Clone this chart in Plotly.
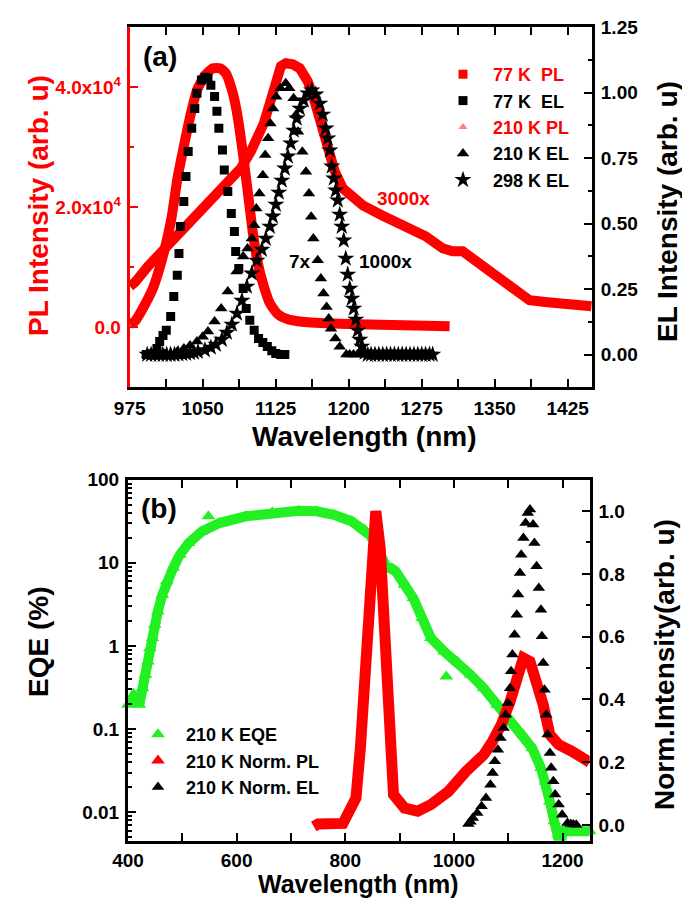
import plotly.graph_objects as go

# ---------------- Panel (a) data ----------------
pl77_x = [975.3, 980.4, 988.6, 998.9, 1004.1, 1011.2, 1017.9, 1024.1, 1031.3, 1037.9, 1044.1, 1052.3,
          1060.5, 1067.7, 1073.8, 1081.0, 1086.2, 1091.3, 1096.5, 1101.6, 1106.7, 1111.9, 1119.0,
          1127.3, 1137.5, 1147.8, 1158.0, 1209.3, 1303.7]
pl77_y = [500, 1000, 3170, 6500, 9000, 13170, 18170, 24830, 30670, 35670, 39500, 42000,
          43170, 43170, 42330, 39000, 34830, 29000, 22330, 15670, 10670, 7330, 4000,
          2170, 1330, 1000, 830, 500, 170]

pl210_x = [975.3, 980.4, 993.8, 1011.2, 1024.5, 1042.0, 1055.3, 1065.6, 1077.9, 1089.2, 1099.5,
           1106.7, 1112.8, 1119.0, 1125.1, 1130.3, 1135.4, 1142.6, 1149.8, 1158.0, 1164.1, 1171.3,
           1178.5, 1185.7, 1193.9, 1204.2, 1214.5, 1234.0, 1255.5, 1279.1, 1296.5, 1306.8, 1317.1,
           1332.4, 1346.8, 1363.2, 1373.5, 1379.7, 1385.8, 1404.3, 1424.8, 1449.4]
pl210_y = [6830, 7500, 10170, 13170, 15500, 18670, 20670, 22330, 24500, 26500, 29330,
           31500, 34000, 37330, 41170, 43500, 44000, 43830, 43170, 41000, 38170, 34330,
           29830, 26000, 23170, 21500, 20330, 18670, 16830, 15170, 13170, 12670, 12670,
           10830, 8830, 7000, 5830, 4830, 4500, 4170, 3830, 3500]

el77_x = [992.0, 994.8, 996.9, 998.9, 1001.0, 1003.0, 1005.8, 1009.2, 1012.6, 1017.1, 1020.3, 1023.9,
          1025.6, 1027.0, 1030.6, 1032.8, 1035.1, 1038.7, 1041.9, 1044.1, 1048.7, 1052.3, 1055.4,
          1058.4, 1062.2, 1064.6, 1066.6, 1070.3, 1072.2, 1075.8, 1079.4, 1082.6, 1083.9, 1087.1,
          1091.6, 1094.7, 1098.4, 1102.9, 1107.4, 1111.8, 1116.4, 1121.0, 1125.1, 1130.3, 1134.4]
el77_y = [0.0, 0.0, 0.0, 0.004, 0.004, 0.023, 0.050, 0.073, 0.093, 0.145, 0.222, 0.303,
          0.386, 0.489, 0.585, 0.680, 0.776, 0.864, 0.940, 0.998, 1.049, 1.059, 1.055,
          1.029, 0.986, 0.929, 0.864, 0.781, 0.705, 0.623, 0.539, 0.470, 0.394, 0.329,
          0.252, 0.176, 0.131, 0.093, 0.061, 0.046, 0.031, 0.015, 0.004, 0.0, 0.0]

el210_x = [993.0, 998.9, 1005.0, 1011.0, 1017.1, 1024.0, 1030.7, 1037.0, 1044.1, 1050.0, 1055.4, 1062.2,
           1069.0, 1075.8, 1084.8, 1091.6, 1096.1, 1100.5, 1102.9, 1105.1, 1108.2, 1111.8, 1114.2,
           1117.2, 1119.5, 1122.3, 1125.5, 1129.9, 1135.3, 1138.9, 1143.4, 1145.7, 1147.9, 1152.4,
           1156.1, 1159.2, 1161.5, 1163.7, 1168.2, 1171.4, 1174.1, 1177.3, 1179.5, 1181.8, 1186.3,
           1190.8, 1197.6, 1201.0, 1205.0, 1209.0, 1213.0, 1217.0, 1221.0, 1225.0, 1229.0, 1233.0,
           1237.0, 1241.0, 1245.0, 1249.0, 1253.0, 1257.0, 1261.0, 1265.0, 1269.0, 1273.0, 1277.0,
           1281.0, 1284.0]
el210_y = [0.0, 0.0, 0.0, 0.002, 0.004, 0.012, 0.023, 0.035, 0.050, 0.068, 0.088, 0.126,
           0.176, 0.241, 0.317, 0.375, 0.405, 0.443, 0.494, 0.558, 0.615, 0.685, 0.762,
           0.826, 0.883, 0.940, 0.985, 1.017, 1.036, 1.017, 0.979, 0.915, 0.851, 0.775,
           0.698, 0.615, 0.526, 0.443, 0.360, 0.291, 0.233, 0.182, 0.138, 0.099, 0.061,
           0.030, 0.0, 0.0, 0.0, 0.0, 0.0, 0.0, 0.0, 0.0, 0.0, 0.0,
           0.0, 0.0, 0.0, 0.0, 0.0, 0.0, 0.0, 0.0, 0.0, 0.0, 0.0,
           0.0, 0.0]

el298_x = [993.0, 997.0, 1001.0, 1005.0, 1009.0, 1013.0, 1017.0, 1021.0, 1025.0, 1029.0, 1033.0,
           1037.0, 1041.0, 1045.1, 1052.3, 1058.4, 1063.6, 1069.7, 1074.9, 1080.0, 1085.2, 1090.3,
           1095.4, 1100.5, 1105.6, 1110.8, 1114.9, 1119.0, 1122.1, 1125.2, 1128.2, 1131.3, 1134.4,
           1137.5, 1140.5, 1143.6, 1146.7, 1149.8, 1153.9, 1158.0, 1162.1, 1166.2, 1170.3, 1173.4,
           1176.5, 1178.5, 1180.6, 1182.6, 1184.7, 1186.7, 1188.8, 1190.8, 1192.9, 1194.9, 1197.0,
           1199.0, 1201.1, 1203.2, 1205.2, 1207.3, 1209.3, 1211.4, 1213.4, 1216.5, 1219.6, 1223.0,
           1227.0, 1231.0, 1235.0, 1239.0, 1243.0, 1247.0, 1251.0, 1255.0, 1259.0, 1263.0, 1267.0,
           1271.0, 1275.0, 1279.0, 1283.0, 1286.3]
el298_y = [0.0, 0.0, 0.0, 0.0, 0.0, 0.0, 0.0, 0.0, 0.002, 0.003, 0.004,
           0.006, 0.008, 0.011, 0.017, 0.027, 0.038, 0.057, 0.084, 0.115, 0.157, 0.206,
           0.260, 0.310, 0.359, 0.401, 0.443, 0.489, 0.528, 0.573, 0.619, 0.665, 0.711,
           0.757, 0.807, 0.856, 0.902, 0.940, 0.971, 0.998, 1.009, 0.994, 0.959, 0.917,
           0.864, 0.826, 0.780, 0.719, 0.673, 0.627, 0.589, 0.535, 0.489, 0.436, 0.367,
           0.306, 0.252, 0.214, 0.176, 0.134, 0.092, 0.057, 0.031, 0.008, 0.0, 0.0,
           0.0, 0.0, 0.0, 0.0, 0.0, 0.0, 0.0, 0.0, 0.0, 0.0, 0.0,
           0.0, 0.0, 0.0, 0.0, 0.0]

# ---------------- Panel (b) data ----------------
eqe_x = [400, 410.1, 420.8, 426.5, 432.0, 436.8, 440.3, 445.1, 449.2, 454.9, 463.0, 471.1, 483.2,
         495.4, 511.6, 535.9, 568.4, 617.0, 665.6, 714.3, 746.8, 779.2, 811.6, 835.9, 852.1,
         866.0, 876.6, 885.0, 892.8, 909.0, 925.2, 941.4, 957.6, 981.9, 1006.2, 1030.7, 1055.0,
         1079.3, 1103.6, 1127.9, 1144.1, 1160.3, 1168.4, 1176.7, 1184.8, 1192.9, 1196.0, 1200.0,
         1215.0, 1230.0, 1250.0]
eqe_y = [0.196, 0.247, 0.196, 0.311, 0.45, 0.65, 0.94, 1.25, 1.8, 2.6, 4.1, 6.0, 8.7,
         12.5, 17.3, 23.9, 30.1, 36.3, 40.6, 42.4, 41.7, 37.9, 31.6, 25.0, 19.9,
         12.0, 8.7, 8.6, 7.9, 5.45, 3.77, 2.17, 1.25, 0.86, 0.65, 0.45, 0.31,
         0.196, 0.124, 0.085, 0.059, 0.034, 0.0235, 0.0135, 0.0078, 0.0054, 0.0038, 0.0059,
         0.0059, 0.0059, 0.0059]
eqe_out_x = [548.0, 986.0]
eqe_out_y = [36.3, 0.43]

npl_x = [742.0, 750.0, 795.8, 803.2, 819.7, 827.8, 835.9, 844.0, 850.7, 856.2, 864.3, 870.0, 875.0,
         880.5, 888.8, 909.0, 933.3, 957.6, 990.0, 1022.4, 1055.0, 1071.2, 1087.4, 1103.6, 1115.8,
         1127.9, 1140.1, 1152.2, 1164.4, 1176.7, 1192.9, 1217.2, 1241.3, 1250.0]
npl_y = [-0.005, 0.003, 0.005, 0.033, 0.086, 0.245, 0.458, 0.723, 0.936, 1.0, 0.882, 0.67, 0.458,
         0.245, 0.097, 0.054, 0.044, 0.065, 0.107, 0.171, 0.224, 0.267, 0.32, 0.394, 0.479,
         0.532, 0.521, 0.458, 0.383, 0.288, 0.256, 0.235, 0.208, 0.2]

nel_x = [1026.7, 1030.5, 1034.8, 1042.9, 1051.0, 1059.1, 1067.2, 1071.2, 1075.3, 1081.0, 1085.8,
         1091.5, 1095.5, 1099.6, 1103.6, 1105.3, 1107.7, 1111.7, 1115.8, 1118.2, 1121.5, 1123.9,
         1127.9, 1132.0, 1136.0, 1140.1, 1145.8, 1148.2, 1152.2, 1156.3, 1160.3, 1162.0, 1164.4,
         1166.7, 1170.1, 1172.5, 1176.7, 1179.1, 1183.1, 1186.3, 1192.9, 1199.3, 1209.1, 1215.0,
         1220.0, 1225.3]
nel_y = [0.003, 0.01, 0.022, 0.038, 0.06, 0.086, 0.128, 0.166, 0.203, 0.24, 0.277,
         0.309, 0.351, 0.389, 0.436, 0.49, 0.543, 0.606, 0.67, 0.734, 0.803, 0.861,
         0.914, 0.962, 0.994, 1.005, 0.957, 0.898, 0.824, 0.755, 0.686, 0.601, 0.516,
         0.431, 0.351, 0.288, 0.229, 0.182, 0.139, 0.097, 0.065, 0.033, 0.006, 0.003,
         0.002, 0.001]

# tick labels
left_a_tickvals = [0, 20000, 40000]
left_a_ticktext = ["0.0", "2.0x10<sup>4</sup>", "4.0x10<sup>4</sup>"]
left_b_tickvals = [0.01, 0.1, 1, 10, 100]
left_b_ticktext = ["0.01", "0.1", "1", "10", "100"]

RED = "#ff0000"
GREEN = "#22f022"
FONT = "Liberation Sans, Arial, sans-serif"
W, H = 690, 898


def px(x):
    return x / W


def py(y):
    return 1 - y / H


fig = go.Figure()

# ---- panel (a) traces ----
fig.add_trace(go.Scatter(x=pl210_x, y=pl210_y, mode="lines", xaxis="x", yaxis="y",
                         line=dict(color=RED, width=10), showlegend=False))
fig.add_trace(go.Scatter(x=pl77_x, y=pl77_y, mode="lines", xaxis="x", yaxis="y",
                         line=dict(color=RED, width=10, shape="spline", smoothing=0.6), showlegend=False))
fig.add_trace(go.Scatter(x=[None], y=[None], mode="markers", xaxis="x", yaxis="y",
                         marker=dict(symbol="square", size=9, color=RED),
                         name="<span style='color:#ff0000'>77 K\u00a0 PL</span>", legend="legend", legendrank=1))
fig.add_trace(go.Scatter(x=[None], y=[None], mode="markers", xaxis="x", yaxis="y",
                         marker=dict(symbol="triangle-up", size=8, color="#ff8080"),
                         name="<span style='color:#ff0000'>210 K PL</span>", legend="legend", legendrank=3))
fig.add_trace(go.Scatter(x=el77_x, y=el77_y, mode="markers", xaxis="x", yaxis="y2",
                         marker=dict(symbol="square", size=9, color="black"),
                         name="77 K\u00a0 EL", legend="legend", legendrank=2))
fig.add_trace(go.Scatter(x=el210_x, y=el210_y, mode="markers", xaxis="x", yaxis="y2",
                         marker=dict(symbol="triangle-up", size=11, color="black"),
                         name="210 K EL", legend="legend", legendrank=4))
fig.add_trace(go.Scatter(x=el298_x, y=el298_y, mode="markers", xaxis="x", yaxis="y2",
                         marker=dict(symbol="star", size=13, color="black"),
                         name="298 K EL", legend="legend", legendrank=5))

# ---- panel (b) traces ----
fig.add_trace(go.Scatter(x=eqe_x, y=eqe_y, mode="lines+markers", xaxis="x2", yaxis="y3",
                         line=dict(color=GREEN, width=10),
                         marker=dict(symbol="triangle-up", size=12, color=GREEN),
                         cliponaxis=False, showlegend=False))
fig.add_trace(go.Scatter(x=eqe_out_x, y=eqe_out_y, mode="markers", xaxis="x2", yaxis="y3",
                         marker=dict(symbol="triangle-up", size=12, color=GREEN), showlegend=False))
fig.add_trace(go.Scatter(x=[None], y=[None], mode="markers", xaxis="x2", yaxis="y3",
                         marker=dict(symbol="triangle-up", size=12, color=GREEN),
                         name="210 K EQE", legend="legend2", legendrank=1))
fig.add_trace(go.Scatter(x=npl_x, y=npl_y, mode="lines", xaxis="x2", yaxis="y4",
                         line=dict(color=RED, width=11), showlegend=False))
fig.add_trace(go.Scatter(x=[None], y=[None], mode="markers", xaxis="x2", yaxis="y4",
                         marker=dict(symbol="triangle-up", size=12, color=RED),
                         name="210 K Norm. PL", legend="legend2", legendrank=2))
fig.add_trace(go.Scatter(x=nel_x, y=nel_y, mode="markers", xaxis="x2", yaxis="y4",
                         marker=dict(symbol="triangle-up", size=11, color="black"),
                         name="210 K Norm. EL", legend="legend2", legendrank=3))

tickfont = dict(family=FONT, size=19, color="black", weight="bold")
common_ax = dict(showgrid=False, zeroline=False, linewidth=3, ticks="inside", ticklen=8,
                 tickwidth=2, showline=True, automargin=False)

fig.update_layout(
    template="none",
    width=W, height=H, autosize=False,
    margin=dict(l=0, r=0, t=0, b=0, pad=0),
    paper_bgcolor="white", plot_bgcolor="white",
    font=dict(family=FONT, color="black"),
    xaxis=dict(domain=[121.7 / W, 584 / W], anchor="y", range=[975, 1450],
               tickmode="linear", tick0=975, dtick=75, linecolor="black", tickcolor="black",
               mirror="allticks", tickfont=tickfont, ticklabelstandoff=2,
               minor=dict(ticks="inside", ticklen=4, tickwidth=2, tickmode="linear", tick0=975, dtick=37.5,
                          tickcolor="black"),
               **common_ax),
    yaxis=dict(domain=[1 - 379.3 / H, 1 - 19.3 / H], anchor="x", range=[-10000, 50000],
               tickmode="array", tickvals=left_a_tickvals, ticktext=left_a_ticktext, ticklabelstandoff=2,
               linecolor=RED, tickcolor=RED, tickfont=dict(family=FONT, size=19, color=RED, weight="bold"),
               minor=dict(ticks="inside", ticklen=4, tickwidth=2, tickmode="linear", tick0=0, dtick=10000,
                          tickcolor=RED),
               **common_ax),
    yaxis2=dict(overlaying="y", side="right", anchor="x", range=[-0.125, 1.25],
                tickmode="linear", tick0=0, dtick=0.25, tickformat=".2f", ticklabelstandoff=2,
                linecolor="black", tickcolor="black", tickfont=tickfont,
                minor=dict(ticks="inside", ticklen=4, tickwidth=2, tickmode="linear", tick0=0, dtick=0.125,
                           tickcolor="black"),
                **common_ax),
    xaxis2=dict(domain=[120 / W, 581.7 / W], anchor="y3", range=[400, 1250],
                tickmode="linear", tick0=400, dtick=200, linecolor="black", tickcolor="black",
                mirror="allticks", tickfont=tickfont, ticklabelstandoff=0,
                minor=dict(ticks="inside", ticklen=4, tickwidth=2, tickmode="linear", tick0=400, dtick=100,
                           tickcolor="black"),
                **common_ax),
    yaxis3=dict(domain=[1 - 832.7 / H, 1 - 471.7 / H], anchor="x2", type="log", range=[-2.342, 2],
                tickmode="array", tickvals=left_b_tickvals, ticktext=left_b_ticktext, ticklabelstandoff=2,
                linecolor="black", tickcolor="black", tickfont=tickfont,
                minor=dict(ticks="inside", ticklen=4, tickwidth=2, tickcolor="black",
                           tickmode="array",
                           tickvals=[m * 10.0 ** e for e in range(-3, 2) for m in range(2, 10)]),
                **common_ax),
    yaxis4=dict(overlaying="y3", side="right", anchor="x2", range=[-0.05, 1.1],
                tickmode="linear", tick0=0, dtick=0.2, tickformat=".1f", ticklabelstandoff=2,
                linecolor="black", tickcolor="black", tickfont=tickfont,
                minor=dict(ticks="inside", ticklen=4, tickwidth=2, tickmode="linear", tick0=0, dtick=0.1,
                           tickcolor="black"),
                **common_ax),
    legend=dict(x=px(425), y=py(48), xanchor="left", yanchor="top", bgcolor="rgba(0,0,0,0)",
                itemwidth=50,
                font=dict(family=FONT, size=18, color="black", weight="bold"), tracegroupgap=0),
    legend2=dict(x=px(122), y=py(708), xanchor="left", yanchor="top", bgcolor="rgba(0,0,0,0)",
                 itemwidth=46,
                 font=dict(family=FONT, size=18, color="black", weight="bold"), tracegroupgap=0),
)

ann_font = lambda size, color="black": dict(family=FONT, size=size, color=color, weight="bold")
annotations = [
    dict(text="(a)", x=px(152), y=py(48), font=ann_font(28)),
    dict(text="(b)", x=px(151), y=py(500), font=ann_font(28)),
    dict(text="3000x", x=px(395), y=py(190), font=ann_font(19, RED)),
    dict(text="7x", x=px(292), y=py(253), font=ann_font(19)),
    dict(text="1000x", x=px(378), y=py(253), font=ann_font(19)),
    dict(text="PL Intensity (arb. u)", x=px(31), y=py(198), textangle=-90, font=ann_font(28, RED)),
    dict(text="EL Intensity (arb. u)", x=px(660), y=py(204), textangle=-90, font=ann_font(28)),
    dict(text="Wavelength (nm)", x=px(356), y=py(429), font=ann_font(28)),
    dict(text="EQE (%)", x=px(30), y=py(634), textangle=-90, font=ann_font(28)),
    dict(text="Norm.Intensity(arb. u)", x=px(656), y=py(657), textangle=-90, font=ann_font(28)),
    dict(text="Wavelength (nm)", x=px(350), y=py(876), font=ann_font(25)),
]
for a in annotations:
    a.update(xref="paper", yref="paper", showarrow=False, xanchor="center", yanchor="middle")
fig.update_layout(annotations=annotations)

fig.write_html("out.html")
